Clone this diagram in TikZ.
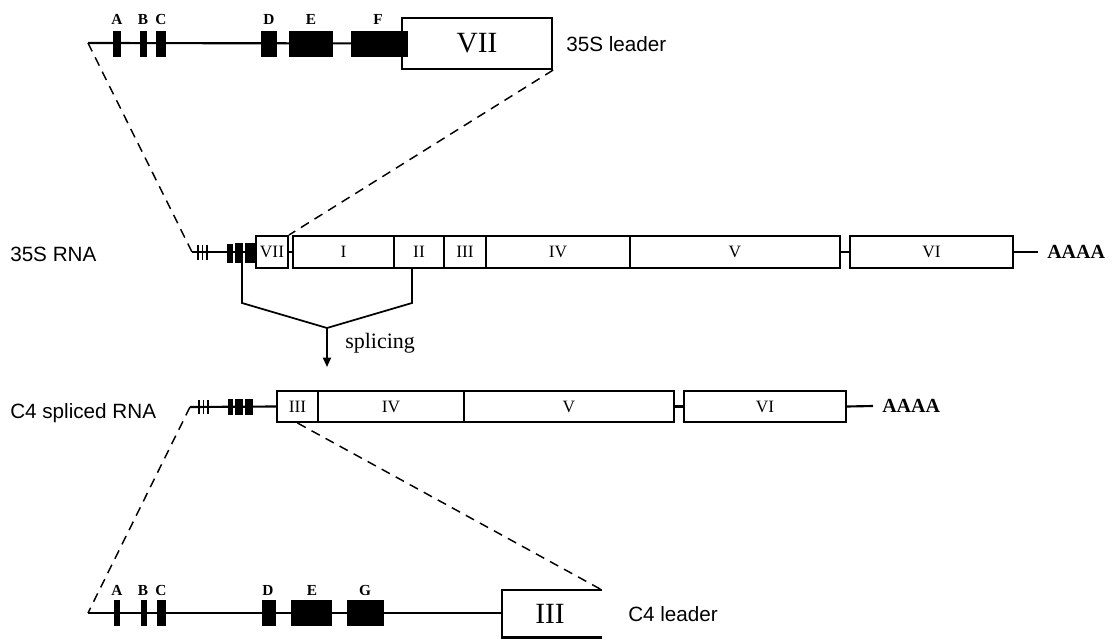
\documentclass[tikz,border=0pt]{standalone}
\usepackage{fontspec}
\setmainfont{Liberation Serif}
\newfontfamily\sansf{Liberation Sans}
\usetikzlibrary{arrows.meta}
\begin{document}
\begin{tikzpicture}[x=0.75pt,y=-0.75pt,
  ln/.style={line width=1.6pt},
  thinln/.style={line width=1.3pt},
  dsh/.style={line width=1.1pt,dash pattern=on 7pt off 5pt},
  tickln/.style={line width=1pt},
  sbox/.style 2 args={draw,line width=1.5pt,inner sep=0pt,anchor=west,
     minimum width=#1*0.75pt,minimum height=#2*0.75pt,font=\fontsize{13}{15}\selectfont},
  bbox/.style 2 args={draw,line width=1.6pt,inner sep=0pt,anchor=west,
     minimum width=#1*0.75pt,minimum height=#2*0.75pt,font=\fontsize{22}{24}\selectfont},
  blk/.style 2 args={fill=black,inner sep=0pt,anchor=west,
     minimum width=#1*0.75pt,minimum height=#2*0.75pt},
  lbl/.style={inner sep=0pt,anchor=base,font=\bfseries\fontsize{11.5}{13}\selectfont},
  sansl/.style={inner sep=0pt,anchor=base west,font=\sansf\fontsize{15.5}{18}\selectfont},
  polya/.style={inner sep=0pt,inner xsep=6.75pt,anchor=west,font=\bfseries\fontsize{15}{18}\selectfont},
]
\useasboundingbox (0,0) rectangle (1115,639);

% ---------------- top: 35S leader ----------------
\coordinate (t0) at (88,43);
\node[bbox={150}{51}] (tVII) at (401,43.5) {VII};
\draw[ln] (t0) -- (tVII.west);
\node[blk={8}{26}] (tA) at (113,44) {};
\node[blk={7}{26}] (tB) at (140,44) {};
\node[blk={10}{26}] (tC) at (156,44) {};
\node[blk={16}{26}] (tD) at (261,44) {};
\node[blk={44}{26}] (tE) at (289,44) {};
\node[blk={57}{26}] (tF) at (351,44) {};
\node[lbl] (ltA) at (117,25) {A};
\node[lbl] (ltB) at (143,25) {B};
\node[lbl] (ltC) at (161,25) {C};
\node[lbl] (ltD) at (269,25) {D};
\node[lbl] (ltE) at (311,25) {E};
\node[lbl] (ltF) at (378,25) {F};
\node[sansl] (l35lead) at (566,51) {35S leader};

% ---------------- 35S RNA ----------------
\node[sansl] (l35) at (10,261) {35S RNA};
\coordinate (r0) at (192,252);
\node[sbox={32}{32}] (rVII) at (255,252) {VII};
\node[sbox={101}{32}] (rI) at (292,252) {I};
\node[sbox={50}{32}] (rII) at (393,252) {II};
\node[sbox={42}{32}] (rIII) at (443,252) {III};
\node[sbox={144}{32}] (rIV) at (485,252) {IV};
\node[sbox={210}{32}] (rV) at (629,252) {V};
\node[sbox={163}{32}] (rVI) at (849,252) {VI};
\node[polya] (rA) at (1038,252) {AAAA};
\draw[ln] (r0) -- (rVII.west);
\draw[ln] (rVII.east) -- (rI.west);
\draw[ln] (rV.east) -- (rVI.west);
\draw[ln] (rVI.east) -- (rA.west);
\foreach \x in {198,202.5,207} \draw[tickln] (\x,245) -- (\x,260);
\node[blk={6}{19}] (rb1) at (227,253) {};
\node[blk={8}{20}] (rb2) at (235,253) {};
\node[blk={10}{20}] (rb3) at (245,253) {};

% ---------------- splicing ----------------
\coordinate (sL) at (242,263);
\coordinate (sL2) at (242,303);
\coordinate (sM) at (327,328);
\coordinate (sR2) at (412,303);
\coordinate (sR) at (412,268);
\coordinate (sT) at (327,367);
\draw[thinln] (sL) -- (sL2) -- (sM) -- (sR2) -- (sR);
\draw[thinln,-{Triangle[length=7pt,width=6pt]}] (sM) -- (sT);
\node[inner sep=0pt,anchor=west,font=\fontsize{16.5}{18}\selectfont] (spl) at (345,343) {splicing};

% ---------------- C4 spliced RNA ----------------
\node[sansl] (lc4) at (10,418) {C4 spliced RNA};
\coordinate (c0) at (190,407);
\node[sbox={41}{31}] (cIII) at (276,406.5) {III};
\node[sbox={146}{31}] (cIV) at (317,406.5) {IV};
\node[sbox={210}{31}] (cV) at (463,406.5) {V};
\node[sbox={162}{31}] (cVI) at (683,406.5) {VI};
\node[polya] (cA) at (873,406) {AAAA};
\draw[ln] (c0) -- (cIII.west);
\draw[ln] (cV.east) -- (cVI.west);
\draw[ln] (cVI.east) -- (cA.west);
\foreach \x in {199,203.5,208} \draw[tickln] (\x,400) -- (\x,414);
\node[blk={5}{16}] (cb1) at (228,407) {};
\node[blk={8}{16}] (cb2) at (235,407) {};
\node[blk={8}{16}] (cb3) at (245,407) {};

% ---------------- bottom: C4 leader ----------------
\coordinate (b0) at (88,613);
\coordinate (bTR) at (602,590);
\coordinate (bTL) at (502,590);
\coordinate (bBL) at (502,637.5);
\coordinate (bBR) at (602,637.5);
\draw[ln] (bTR) -- (bTL) -- (bBL) -- (bBR);
\draw[ln] (b0) -- (bTL |- b0);
\node[inner sep=0pt,font=\fontsize{22}{24}\selectfont] (bIII) at (550,614) {III};
\node[blk={6}{26}] (bA) at (114,613) {};
\node[blk={6}{26}] (bB) at (141,613) {};
\node[blk={9}{26}] (bC) at (157,613) {};
\node[blk={14}{26}] (bD) at (262,613) {};
\node[blk={41}{26}] (bE) at (291,613) {};
\node[blk={37}{26}] (bG) at (347,613) {};
\node[lbl] (lbA) at (117,595) {A};
\node[lbl] (lbB) at (143,595) {B};
\node[lbl] (lbC) at (161,595) {C};
\node[lbl] (lbD) at (268,595) {D};
\node[lbl] (lbE) at (312,595) {E};
\node[lbl] (lbG) at (365,595) {G};
\node[sansl] (lc4lead) at (628,621) {C4 leader};

% ---------------- dashed projections ----------------
\draw[dsh] (t0) -- (r0);
\draw[dsh] (tVII.south east) -- (rVII.north east);
\draw[dsh] (c0) -- (b0);
\draw[dsh] (cIII.south) -- (bTR);
\end{tikzpicture}
\end{document}
